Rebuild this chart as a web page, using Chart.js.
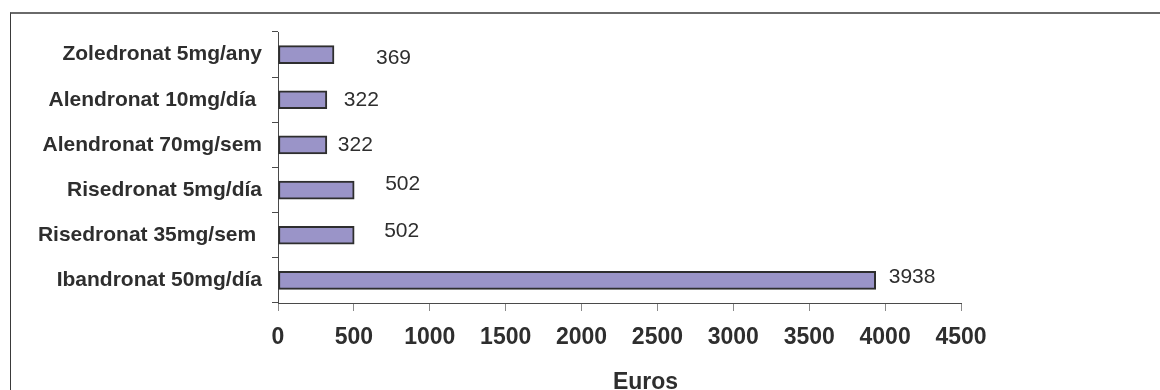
<!DOCTYPE html>
<html>
<head>
<meta charset="utf-8">
<title>Cost per tractament</title>
<script src="https://cdn.jsdelivr.net/npm/chart.js@4.4.1/dist/chart.umd.min.js"></script>
<style>
    html, body {
        margin: 0;
        padding: 0;
        background: #ffffff;
        overflow: hidden;
    }
    #wrap {
        position: relative;
        width: 1160px;
        height: 390px;
    }
    #frame {
        position: absolute;
        left: 10px;
        top: 12px;
        width: 1200px;
        height: 500px;
        border-top: 2px solid #6a6a6a;
        border-left: 1px solid #3a3a3a;
    }
    #costChart {
        position: absolute;
        left: 0;
        top: 0;
    }
</style>
</head>
<body>
<div id="wrap">
    <div id="frame"></div>
    <canvas id="costChart" width="1160" height="390"></canvas>
</div>
<script>
// Categories (top to bottom)
const treatments = [
    'Zoledronat 5mg/any',
    'Alendronat 10mg/día ',
    'Alendronat 70mg/sem',
    'Risedronat 5mg/día',
    'Risedronat 35mg/sem ',
    'Ibandronat 50mg/día'
];

// Cost in euros
const costs = [369, 322, 322, 502, 502, 3938];

// X axis
const X_MIN = 0;
const X_MAX = 4500;
const X_STEP = 500;
const X_TITLE = 'Euros';

// Value labels were nudged by hand in the original: [dx from bar end, dy]
const labelNudge = [[42, 4], [17, 0], [11, 0], [31, -6], [30, -4], [13, -3]];

const FONT = '"Liberation Sans", Arial, sans-serif';
const TEXT_COLOR = '#2e2e2e';

// Draws the value next to each bar and the axis title
const valueLabels = {
    id: 'valueLabels',
    afterDatasetsDraw(chart) {
        const ctx = chart.ctx;
        const meta = chart.getDatasetMeta(0);
        ctx.save();
        ctx.font = '21px ' + FONT;
        ctx.fillStyle = TEXT_COLOR;
        ctx.textAlign = 'left';
        ctx.textBaseline = 'middle';
        meta.data.forEach((bar, i) => {
            const nudge = labelNudge[i];
            ctx.fillText(String(costs[i]), bar.x + nudge[0], bar.y + nudge[1]);
        });

        // axis title sits a little right of centre in the original
        const area = chart.chartArea;
        ctx.font = 'bold 23px ' + FONT;
        ctx.textAlign = 'center';
        ctx.textBaseline = 'alphabetic';
        ctx.fillText(X_TITLE, (area.left + area.right) / 2 + 26, 389);
        ctx.restore();
    }
};

const ctx = document.getElementById('costChart').getContext('2d');

new Chart(ctx, {
    type: 'bar',
    data: {
        labels: treatments,
        datasets: [{
            data: costs,
            backgroundColor: '#9a94c8',
            borderColor: '#2e2e2e',
            borderWidth: 2,
            borderSkipped: false,
            barThickness: 18
        }]
    },
    options: {
        indexAxis: 'y',
        responsive: false,
        animation: false,
        devicePixelRatio: 1,
        layout: {
            padding: { left: 0, top: 32, right: 199, bottom: 0 }
        },
        plugins: {
            legend: { display: false },
            tooltip: { enabled: false }
        },
        scales: {
            x: {
                min: X_MIN,
                max: X_MAX,
                afterFit(scale) {
                    scale.height = 87;
                },
                ticks: {
                    stepSize: X_STEP,
                    color: TEXT_COLOR,
                    padding: 13,
                    maxRotation: 0,
                    callback: value => String(value),
                    font: { family: FONT, size: 23, weight: 'bold' }
                },
                grid: {
                    drawOnChartArea: false,
                    drawTicks: true,
                    tickLength: 8,
                    color: '#8a8a8a'
                },
                border: { display: true, color: '#4a4a4a', width: 1 }
            },
            y: {
                afterFit(scale) {
                    scale.width = 278;
                },
                ticks: {
                    color: TEXT_COLOR,
                    padding: 10,
                    font: { family: FONT, size: 21, weight: 'bold' }
                },
                grid: {
                    offset: true,
                    drawOnChartArea: false,
                    drawTicks: true,
                    tickLength: 6,
                    color: '#4a4a4a'
                },
                border: { display: true, color: '#4a4a4a', width: 1 }
            }
        }
    },
    plugins: [valueLabels]
});
</script>
</body>
</html>
